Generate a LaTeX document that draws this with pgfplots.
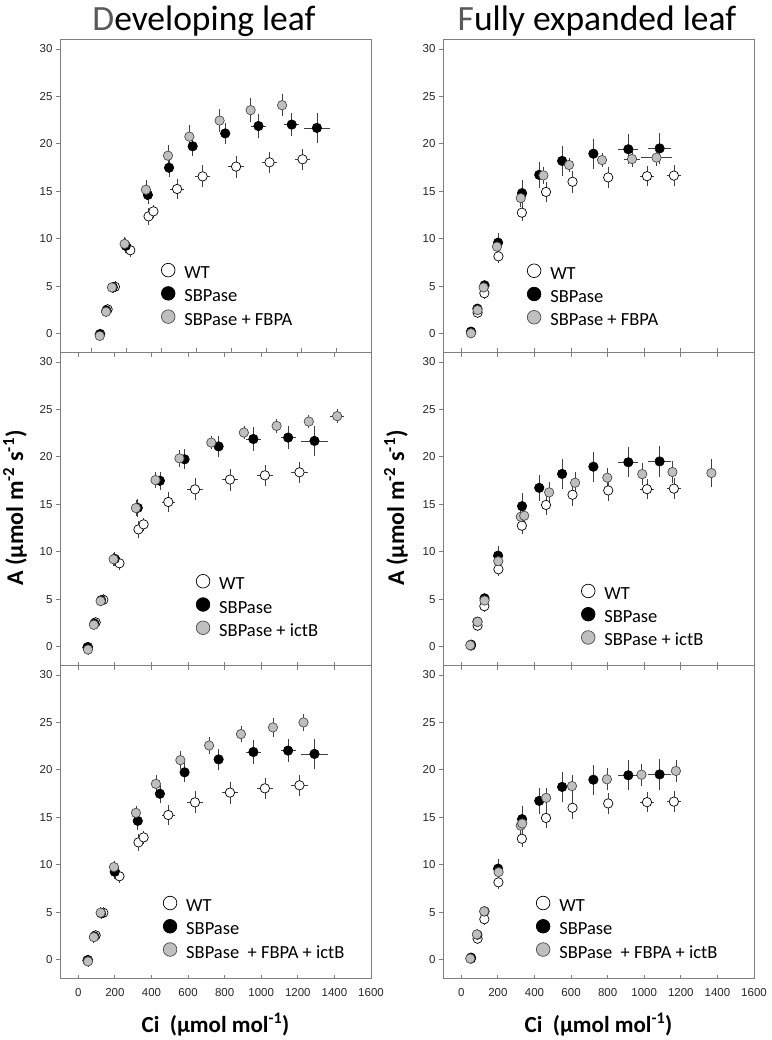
\documentclass[border=0pt]{standalone}
\usepackage{fontspec}
\setmainfont{Carlito}
\newfontfamily\arialfont{Liberation Sans}
\usepackage{pgfplots}
\usepackage{pgfplotstable}
\pgfplotsset{compat=1.18}

% columns: Ci, A, x error, y error
\pgfplotstableread{
x y ex ey
53 -0.05 0 0.2
95 2.55 0 0.2
137 4.93 0 0.2
225 8.78 0 0.3
329 12.35 0 0.5
357 12.88 0 0.3
492 15.24 18 0.7
638 16.57 22 0.8
829 17.6 25 0.8
1020 18.05 25 0.75
1209 18.37 25 0.75
}\wtL
\pgfplotstableread{
x y ex ey
50 -0.1 0 0.2
88 2.43 0 0.2
125 4.88 0 0.2
199 9.25 0 0.4
325 14.62 0 0.6
446 17.48 0 0.6
581 19.74 0 0.7
767 21.1 0 0.75
957 21.88 22 0.85
1147 22.03 22 0.85
1291 21.68 54 1.25
}\sbL
\pgfplotstableread{
x y ex ey
50 -0.25 0 0.2
86 2.29 0 0.2
120 4.86 0 0.2
192 9.45 0 0.4
314 15.16 0 0.7
440 18.75 0 0.8
562 20.76 0 0.9
735 22.45 0 0.85
912 23.55 0 0.9
1092 24.07 0 0.8
}\fbL
\pgfplotstableread{
x y ex ey
53 -0.32 0 0.2
85 2.29 0 0.2
122 4.79 0 0.2
193 9.2 0 0.3
315 14.6 0 0.5
422 17.55 0 0.5
553 19.84 0 0.5
727 21.5 0 0.35
905 22.56 0 0.35
1084 23.26 0 0.35
1260 23.72 0 0.3
1415 24.29 20 0.4
}\icL
\pgfplotstableread{
x y ex ey
53 -0.2 0 0.2
85 2.36 0 0.2
122 4.93 0 0.2
195 9.75 0 0.3
315 15.46 0 0.4
424 18.52 0 0.6
558 21.02 0 0.6
715 22.57 0 0.5
889 23.77 0 0.5
1064 24.47 0 0.6
1231 25.0 0 0.5
}\fiL
\pgfplotstableread{
x y ex ey
53 0.1 0 0.1
89 2.2 0 0.15
126 4.25 0 0.2
203 8.14 0 0.3
331 12.74 0 0.5
463 14.93 0 0.7
608 16.0 0 0.8
803 16.46 0 0.75
1015 16.59 20 0.7
1162 16.65 20 0.7
}\wtR
\pgfplotstableread{
x y ex ey
53 0.2 0 0.1
88 2.62 0 0.15
127 5.08 0 0.2
201 9.58 0 0.6
332 14.8 0 1.0
426 16.73 0 1.0
551 18.2 0 1.2
722 18.96 0 1.2
913 19.43 36 1.2
1084 19.52 45 1.25
}\sbR
\pgfplotstableread{
x y ex ey
53 0.03 0 0.1
89 2.47 0 0.15
122 4.86 0 0.2
195 9.16 0 0.4
325 14.28 0 0.6
449 16.67 0 0.5
589 17.77 0 0.4
769 18.29 0 0.4
933 18.4 25 0.5
1067 18.54 64 0.5
}\fbR
\pgfplotstableread{
x y ex ey
49 0.14 0 0.1
89 2.6 0 0.15
127 4.85 0 0.2
202 9.0 0 0.3
325 13.68 0 0.6
344 13.79 0 0.6
480 16.25 0 0.7
622 17.27 0 0.8
798 17.8 0 0.7
989 18.18 0 0.8
1154 18.4 0 0.8
1367 18.29 0 1.15
}\icR
\pgfplotstableread{
x y ex ey
49 0.1 0 0.1
85 2.65 0 0.15
125 5.08 0 0.2
204 9.22 0 0.3
325 14.12 0 0.5
333 14.34 0 0.6
464 17.05 0 0.7
605 18.29 0 0.8
796 19.0 0 0.8
985 19.49 0 0.8
1173 19.88 0 0.75
}\fiR

\pgfplotsset{
  panel/.style={scale only axis,width=311pt,height=313pt,anchor=north west,
    xmin=-100,xmax=1600,ymin=-2,ymax=31,
    xtick={0,200,...,1600},ytick={0,5,...,30},xticklabels={},
    axis line style={black!50,line width=0.8pt},
    tick style={black!50,line width=0.8pt},major tick length=4pt,
    ytick pos=left,ytick align=outside,xtick align=inside,
    tick label style={font=\arialfont\fontsize{11.5}{13}\selectfont,text=black!85},
    /pgf/number format/assume math mode=true,
    legend style={draw=none,fill=none,inner sep=0pt,outer sep=0pt,anchor=north west,
      row sep=3.6pt,column sep=9pt,
      nodes={inner sep=0pt,text height=13pt,text depth=4pt,font=\fontsize{18.5}{20}\selectfont}},
    legend cell align=left},
  ebars/.style={error bars/x dir=both,error bars/x explicit,error bars/y dir=both,error bars/y explicit,
    error bars/error bar style={black!75,line width=0.7pt},
    error bars/error mark options={draw=black!75,line width=0.7pt,mark size=3.5pt}},
  wt/.style={only marks,mark=*,mark size=4.7pt,mark options={fill=white,draw=black,line width=0.7pt},ebars,forget plot},
  sb/.style={only marks,mark=*,mark size=4.7pt,mark options={fill=black,draw=black,line width=0.7pt},ebars,forget plot},
  gr/.style={only marks,mark=*,mark size=4.7pt,mark options={fill=black!25,draw=black!70,line width=0.7pt},ebars,forget plot},
}
\newcommand{\legs}[1]{%
  \addlegendimage{legend image code/.code={\draw[black,line width=0.7pt,fill=white] (0pt,4pt) circle (6.8pt);}}
  \addlegendentry{WT}
  \addlegendimage{legend image code/.code={\draw[black,line width=0.7pt,fill=black] (0pt,4pt) circle (6.8pt);}}
  \addlegendentry{SBPase}
  \addlegendimage{legend image code/.code={\draw[black!70,line width=0.7pt,fill=black!25] (0pt,4pt) circle (6.8pt);}}
  \addlegendentry{#1}}

\begin{document}
\begin{tikzpicture}
\path[use as bounding box] (0pt,0pt) rectangle (771pt,-1040pt);

% left column
\begin{axis}[panel,at={(60pt,-39.5pt)},xmin=-177,xtick pos=bottom,legend style={at={(rel axis cs:0.325,0.286)}}]
\addplot[wt] table[x=x,y=y,x error=ex,y error=ey] {\wtL};
\addplot[sb] table[x=x,y=y,x error=ex,y error=ey] {\sbL};
\addplot[gr] table[x=x,y=y,x error=ex,y error=ey] {\fbL};
\legs{SBPase + FBPA}
\end{axis}
\begin{axis}[panel,at={(60pt,-352.5pt)},xtick pos=both,legend style={at={(rel axis cs:0.437,0.292)}}]
\addplot[wt] table[x=x,y=y,x error=ex,y error=ey] {\wtL};
\addplot[sb] table[x=x,y=y,x error=ex,y error=ey] {\sbL};
\addplot[gr] table[x=x,y=y,x error=ex,y error=ey] {\icL};
\legs{SBPase + ictB}
\end{axis}
\begin{axis}[panel,at={(60pt,-665.5pt)},xtick pos=both,xticklabels={0,200,400,600,800,1000,1200,1400,1600},
  xticklabel style={yshift=-6pt},legend style={at={(rel axis cs:0.331,0.264)}}]
\addplot[wt] table[x=x,y=y,x error=ex,y error=ey] {\wtL};
\addplot[sb] table[x=x,y=y,x error=ex,y error=ey] {\sbL};
\addplot[gr] table[x=x,y=y,x error=ex,y error=ey] {\fiL};
\legs{SBPase\ \ + FBPA + ictB}
\end{axis}

% right column
\begin{axis}[panel,at={(443pt,-39.5pt)},xtick pos=bottom,legend style={at={(rel axis cs:0.270,0.284)}}]
\addplot[wt] table[x=x,y=y,x error=ex,y error=ey] {\wtR};
\addplot[sb] table[x=x,y=y,x error=ex,y error=ey] {\sbR};
\addplot[gr] table[x=x,y=y,x error=ex,y error=ey] {\fbR};
\legs{SBPase + FBPA}
\end{axis}
\begin{axis}[panel,at={(443pt,-352.5pt)},xtick pos=both,legend style={at={(rel axis cs:0.444,0.261)}}]
\addplot[wt] table[x=x,y=y,x error=ex,y error=ey] {\wtR};
\addplot[sb] table[x=x,y=y,x error=ex,y error=ey] {\sbR};
\addplot[gr] table[x=x,y=y,x error=ex,y error=ey] {\icR};
\legs{SBPase + ictB}
\end{axis}
\begin{axis}[panel,at={(443pt,-665.5pt)},xtick pos=both,xticklabels={0,200,400,600,800,1000,1200,1400,1600},
  xticklabel style={yshift=-6pt},legend style={at={(rel axis cs:0.299,0.264)}}]
\addplot[wt] table[x=x,y=y,x error=ex,y error=ey] {\wtR};
\addplot[sb] table[x=x,y=y,x error=ex,y error=ey] {\sbR};
\addplot[gr] table[x=x,y=y,x error=ex,y error=ey] {\fiR};
\legs{SBPase\ \ + FBPA + ictB}
\end{axis}

% titles and axis labels
\node[anchor=base,font=\fontsize{35.5}{40}\selectfont] at (204pt,-31pt) {\textcolor{black!65}{D}eveloping leaf};
\node[anchor=base,font=\fontsize{35.5}{40}\selectfont] at (597pt,-31pt) {\textcolor{black!65}{F}ully expanded leaf};
\node[rotate=90,font=\bfseries\fontsize{24}{28}\selectfont] at (15pt,-508pt) {A (µmol m\textsuperscript{-2} s\textsuperscript{-1})};
\node[rotate=90,font=\bfseries\fontsize{24}{28}\selectfont] at (396pt,-508pt) {A (µmol m\textsuperscript{-2} s\textsuperscript{-1})};
\node[font=\bfseries\fontsize{23}{27}\selectfont] at (215.5pt,-1025pt) {Ci\ \ (µmol mol\textsuperscript{-1})};
\node[font=\bfseries\fontsize{23}{27}\selectfont] at (598.5pt,-1025pt) {Ci\ \ (µmol mol\textsuperscript{-1})};
\end{tikzpicture}
\end{document}
